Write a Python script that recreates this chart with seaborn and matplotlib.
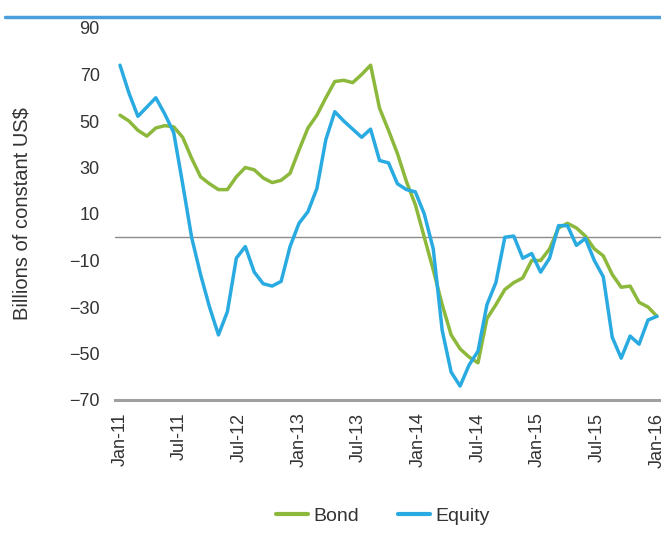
import numpy as np
import pandas as pd
import seaborn as sns
from matplotlib import pyplot as plt
from matplotlib.lines import Line2D

# monthly values, Jan-11 .. Jan-16 (61 months)
bond = [52.5, 50, 46, 43.5, 47, 48, 47.5, 43, 34, 26,
        23, 20.5, 20.5, 26, 30, 29, 25.5, 23.5, 24.5, 27.5,
        37.5, 47, 52.5, 60, 67, 67.5, 66.5, 70, 74, 55.5,
        46, 36, 24, 14, 0, -14, -29, -42, -48, -51.5,
        -54, -35, -29, -22.5, -19.5, -17.5, -10, -10, -5, 4,
        6, 4, 0.5, -5, -8, -16, -21.5, -21, -28, -30, -34]
equity = [74, 62, 52, 56, 60, 53, 45, 23, 0, -16,
          -30, -42, -32, -9, -4, -15, -20, -21, -19, -4,
          6, 11, 21, 42, 54, 50, 46.5, 43, 46.5, 33,
          32, 23, 20.5, 19.5, 10, -5, -40, -58, -64, -55,
          -49, -29, -19.5, 0, 0.5, -9, -7, -15, -9, 5,
          5, -3.5, -0.5, -10, -17, -43, -52, -42.5, -46, -35.6, -34]
tick_labels = ["Jan-11", "Jul-11", "Jul-12", "Jan-13", "Jul-13",
               "Jan-14", "Jul-14", "Jan-15", "Jul-15", "Jan-16"]
yticks = [-70, -50, -30, -10, 10, 30, 50, 70, 90]

colors = {"Bond": "#8cb83c", "Equity": "#29abe2"}

def main():
    sns.set_style("white")
    plt.rcParams["font.family"] = ["Liberation Sans", "DejaVu Sans"]
    n = len(bond)
    df = pd.DataFrame({"month": list(range(n)) * 2,
                       "value": bond + equity,
                       "series": ["Bond"] * n + ["Equity"] * n})

    fig = plt.figure(figsize=(6.61, 5.35), dpi=100)
    ax = fig.add_axes([115 / 661, 1 - 400 / 535, 546 / 661, 372 / 535])
    ax.axhline(0, color="#8c8c8c", lw=1.0, zorder=1)
    sns.lineplot(data=df, x="month", y="value", hue="series", palette=colors,
                 linewidth=2.5, ax=ax, zorder=3)

    ax.set_xlim(-0.56, 60.45)
    ax.set_ylim(-70, 90)
    ax.set_yticks(yticks)
    ax.set_yticklabels([str(v).replace("-", "\u2212") for v in yticks])
    ax.set_xticks(np.linspace(0, n - 1, len(tick_labels)))
    ax.set_xticklabels(tick_labels, rotation=90)
    ax.tick_params(axis="both", length=0, labelsize=13, labelcolor="#333333")
    ax.tick_params(axis="x", pad=9)
    ax.tick_params(axis="y", pad=11)
    for s in ["top", "right", "left"]:
        ax.spines[s].set_visible(False)
    ax.spines["bottom"].set_color("#a0a0a0")
    ax.spines["bottom"].set_linewidth(2.2)
    ax.set_xlabel("")
    ax.set_ylabel("Billions of constant US$", fontsize=14.5, color="#333333")
    ax.yaxis.set_label_coords(-83 / 546, 0.5)

    ax.legend(loc="center", bbox_to_anchor=(383 / 661, 1 - 516 / 535),
              bbox_transform=fig.transFigure, ncol=2, frameon=False,
              fontsize=14, handlelength=1.65, handletextpad=0.26,
              columnspacing=2.0, labelcolor="#333333")
    for ln in ax.get_legend().get_lines():
        ln.set_linewidth(3)

    # blue rule across the top
    fig.add_artist(Line2D([5 / 661, 1], [1 - 17 / 535] * 2, color="#4a9fdc",
                          lw=2.5, transform=fig.transFigure))
    plt.savefig("out.png", dpi=100)

if __name__ == '__main__':
    main()
